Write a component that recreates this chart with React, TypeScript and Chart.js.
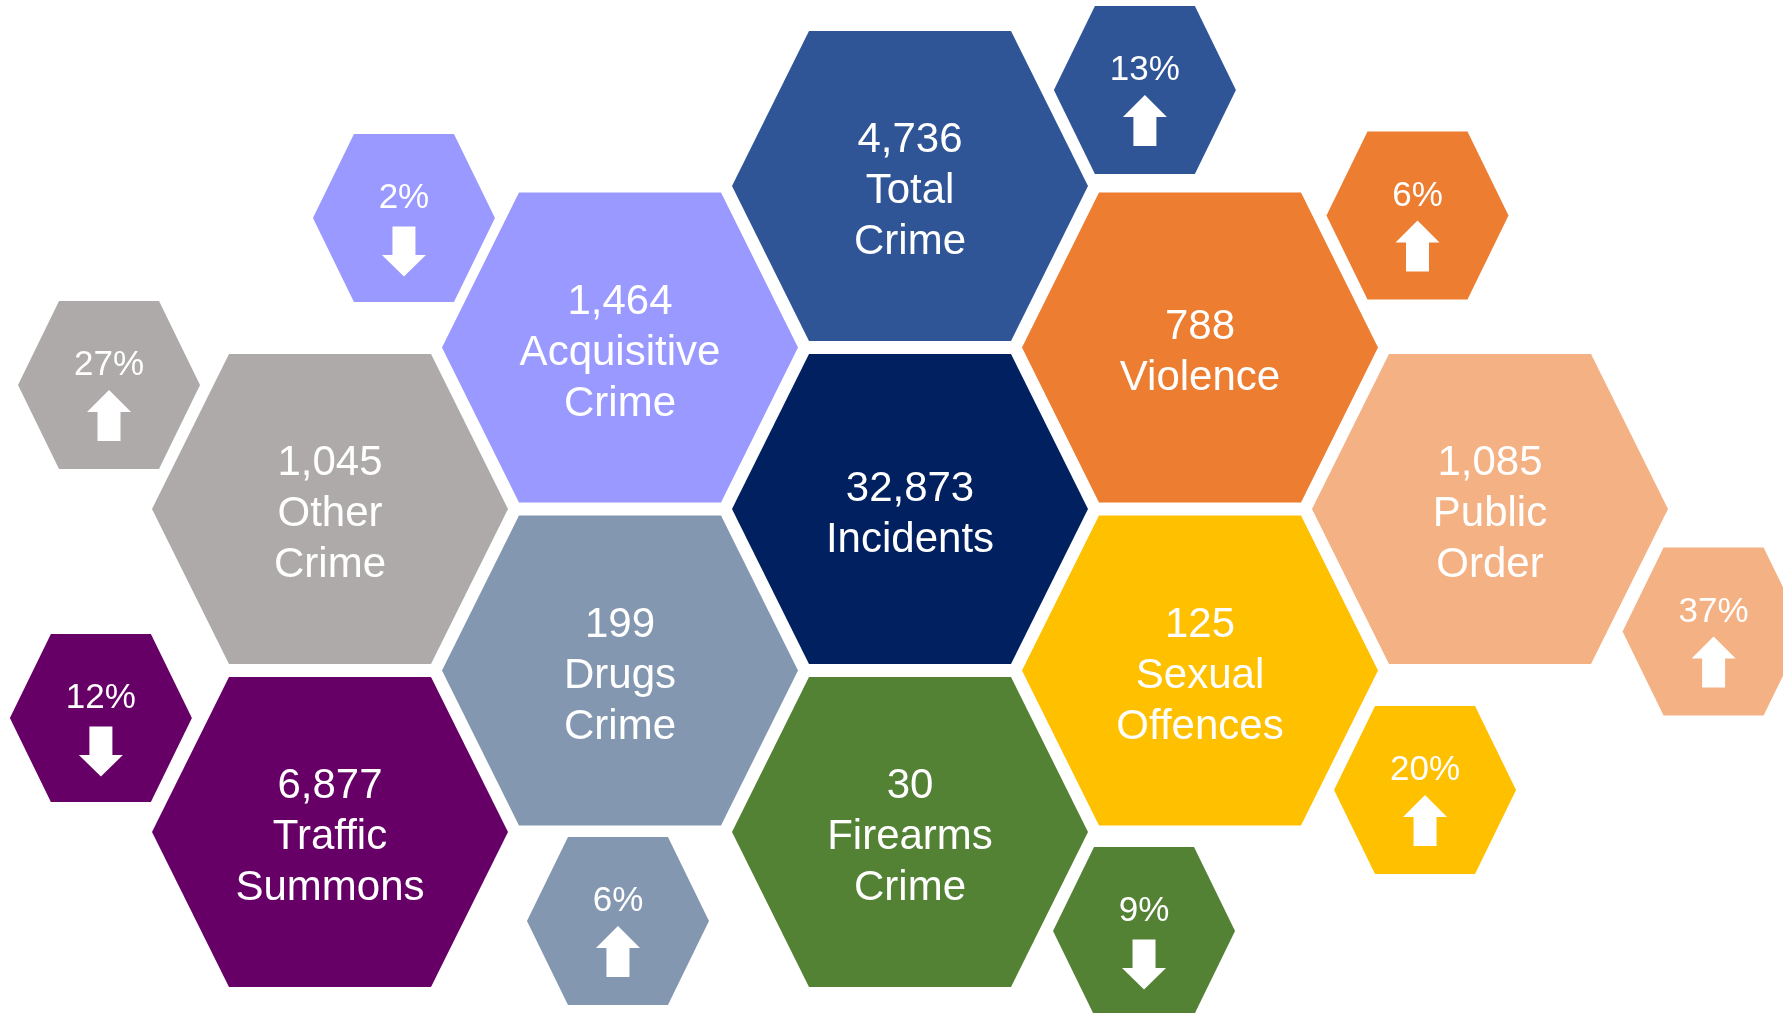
import React, { useEffect, useRef } from "react";
import { Chart, registerables } from "chart.js";

Chart.register(...registerables);

// ---- Data ----
const categories = [
  "Incidents",
  "Total Crime",
  "Acquisitive Crime",
  "Violence",
  "Other Crime",
  "Drugs Crime",
  "Public Order",
  "Sexual Offences",
  "Traffic Summons",
  "Firearms Crime",
];
const labelLines = [
  ["Incidents"],
  ["Total", "Crime"],
  ["Acquisitive", "Crime"],
  ["Violence"],
  ["Other", "Crime"],
  ["Drugs", "Crime"],
  ["Public", "Order"],
  ["Sexual", "Offences"],
  ["Traffic", "Summons"],
  ["Firearms", "Crime"],
];
const counts = [32873, 4736, 1464, 788, 1045, 199, 1085, 125, 6877, 30];
// honeycomb grid position of each big hexagon (column, half-row)
const hexCol = [2, 2, 1, 3, 0, 1, 4, 3, 0, 2];
const hexRow = [2, 0, 1, 1, 2, 3, 2, 3, 4, 4];
// change badges (percentage change, direction +1 up / -1 down)
const changePct = [null, 13, 2, 6, 27, 6, 37, 20, 12, 9];
const changeDir = [0, 1, -1, 1, 1, 1, 1, 1, -1, -1];
const changeCol = [null, 2.81, 0.255, 3.75, -0.762, 0.993, 4.771, 3.776, -0.79, 2.807];
const changeRow = [null, -0.594, 0.198, 0.183, 1.232, 4.551, 2.759, 3.74, 3.294, 4.613];
const colors = [
  "#002060",
  "#2F5597",
  "#9999FF",
  "#ED7D31",
  "#AEAAAA",
  "#8497B0",
  "#F4B183",
  "#FFC000",
  "#660066",
  "#548235",
];

// ---- Styles ----
const FONT = "'Liberation Sans', Arial, sans-serif";
const BIG = { a: 0.6138, b: 0.9598, c: 0.3483 }; // in grid units
const SMALL = { a: 0.3138, b: 0.52, c: 0.1724 };

function hexPath(ctx: CanvasRenderingContext2D, xs: any, ys: any, cx: number, cy: number, s: any) {
  const px = (v: number) => xs.getPixelForValue(v);
  const py = (v: number) => ys.getPixelForValue(v);
  ctx.beginPath();
  ctx.moveTo(px(cx - s.c), py(cy - s.b));
  ctx.lineTo(px(cx + s.c), py(cy - s.b));
  ctx.lineTo(px(cx + s.a), py(cy));
  ctx.lineTo(px(cx + s.c), py(cy + s.b));
  ctx.lineTo(px(cx - s.c), py(cy + s.b));
  ctx.lineTo(px(cx - s.a), py(cy));
  ctx.closePath();
}

function drawArrow(ctx: CanvasRenderingContext2D, x: number, y: number, dir: number) {
  ctx.fillStyle = "#FFFFFF";
  ctx.beginPath();
  if (dir > 0) {
    const tip = y + 5, base = y + 27, bottom = y + 56;
    ctx.moveTo(x, tip);
    ctx.lineTo(x + 22, base);
    ctx.lineTo(x + 11.5, base);
    ctx.lineTo(x + 11.5, bottom);
    ctx.lineTo(x - 11.5, bottom);
    ctx.lineTo(x - 11.5, base);
    ctx.lineTo(x - 22, base);
  } else {
    const top = y + 8.5, base = y + 37, tip = y + 58.5;
    ctx.moveTo(x - 11.5, top);
    ctx.lineTo(x + 11.5, top);
    ctx.lineTo(x + 11.5, base);
    ctx.lineTo(x + 22, base);
    ctx.lineTo(x, tip);
    ctx.lineTo(x - 22, base);
    ctx.lineTo(x - 11.5, base);
  }
  ctx.closePath();
  ctx.fill();
}

const hexPlugin = {
  id: "hexagons",
  afterDatasetsDraw(chart: any) {
    const ctx: CanvasRenderingContext2D = chart.ctx;
    const xs = chart.scales.x;
    const ys = chart.scales.y;
    ctx.save();
    // small change badges
    const smallMeta = chart.getDatasetMeta(1);
    chart.data.datasets[1].data.forEach((d: any, i: number) => {
      if (d == null) return;
      const idx = d.idx;
      hexPath(ctx, xs, ys, d.x, d.y, SMALL);
      ctx.fillStyle = colors[idx];
      ctx.fill();
      const el = smallMeta.data[i];
      ctx.fillStyle = "#FFFFFF";
      ctx.font = `35px ${FONT}`;
      ctx.textAlign = "center";
      ctx.textBaseline = "alphabetic";
      ctx.fillText(`${changePct[idx]}%`, el.x, el.y - 10);
      drawArrow(ctx, el.x, el.y, changeDir[idx]);
    });
    // big hexagons
    const bigMeta = chart.getDatasetMeta(0);
    chart.data.datasets[0].data.forEach((d: any, i: number) => {
      hexPath(ctx, xs, ys, d.x, d.y, BIG);
      ctx.fillStyle = colors[i];
      ctx.fill();
      const el = bigMeta.data[i];
      const lines = [counts[i].toLocaleString("en-US"), ...labelLines[i]];
      ctx.fillStyle = "#FFFFFF";
      ctx.font = `42px ${FONT}`;
      ctx.textAlign = "center";
      ctx.textBaseline = "alphabetic";
      const n = lines.length;
      lines.forEach((t, k) => {
        ctx.fillText(t, el.x, el.y + (k - (n - 1) / 2) * 51 + 17);
      });
    });
    ctx.restore();
  },
};

export default function App() {
  const ref = useRef<HTMLCanvasElement | null>(null);
  useEffect(() => {
    if (!ref.current) return;
    const bigData = categories.map((_, i) => ({ x: hexCol[i], y: hexRow[i] }));
    const smallData = categories
      .map((_, i) => (changePct[i] == null ? null : { x: changeCol[i] as number, y: changeRow[i] as number, idx: i }))
      .filter((d) => d != null);
    const chart = new Chart(ref.current, {
      type: "scatter",
      data: {
        datasets: [
          { label: "Counts", data: bigData, pointRadius: 0 },
          { label: "Change", data: smallData as any, pointRadius: 0 },
        ],
      },
      options: {
        animation: false,
        responsive: true,
        maintainAspectRatio: false,
        layout: { padding: 0 },
        plugins: { legend: { display: false }, tooltip: { enabled: false } },
        events: [],
        scales: {
          x: { type: "linear", display: false, min: -330 / 290, max: (1783 - 330) / 290 },
          y: { type: "linear", display: false, reverse: true, min: -186 / 161.5, max: (1013 - 186) / 161.5 },
        },
      },
      plugins: [hexPlugin],
    });
    return () => chart.destroy();
  }, []);
  return (
    <div style={{ position: "fixed", left: 0, top: 0, width: "100vw", height: "100vh", background: "#FFFFFF" }}>
      <canvas ref={ref} />
    </div>
  );
}
